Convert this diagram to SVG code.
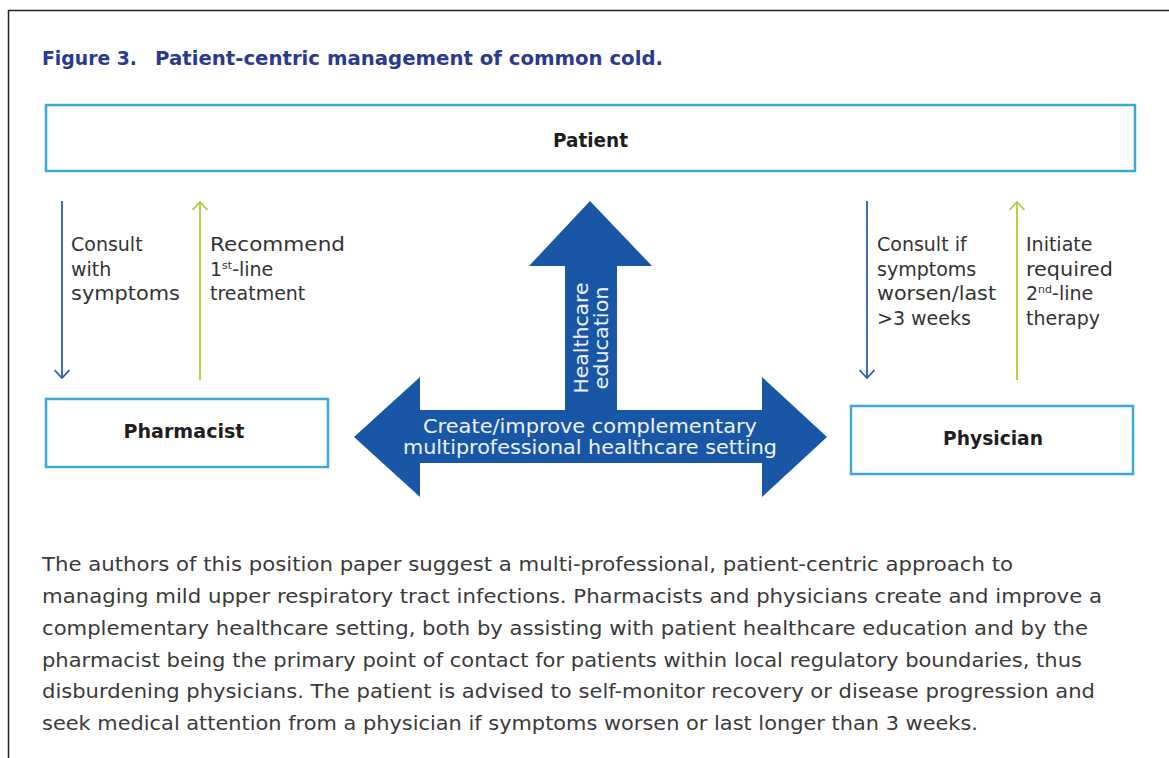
<svg xmlns="http://www.w3.org/2000/svg" width="1169" height="758" viewBox="0 0 1169 758">
<style>
.frame{fill:none;stroke:#222;stroke-width:1.5}
.box{fill:#fff;stroke:#3aa9da;stroke-width:2.5}
.title{font-family:"DejaVu Sans",sans-serif;font-weight:bold;font-size:19.5px;fill:#2b3a8e}
.nodelabel{font-family:"DejaVu Sans",sans-serif;font-weight:bold;font-size:19px;fill:#1e1e1e;text-anchor:middle}
.lbl{font-family:"DejaVu Sans",sans-serif;font-size:19px;fill:#333}
.sup{font-size:11px}
.arrowtxt{font-family:"DejaVu Sans",sans-serif;font-size:19px;fill:#eef3fb;text-anchor:middle}
.para{font-family:"DejaVu Sans",sans-serif;font-size:19.5px;fill:#3a3a3a}
.blue{stroke:#2b5cab;stroke-width:1.8;fill:none}
.green{stroke:#a9cf3a;stroke-width:1.8;fill:none}
.big{fill:#1957a6}
</style>
<defs>
<marker id="chevBlue" viewBox="0 0 10 16" refX="9" refY="8" markerWidth="10" markerHeight="16" orient="auto" markerUnits="userSpaceOnUse">
<path d="M1,0.5 L9,8 L1,15.5" fill="none" stroke="#2b5cab" stroke-width="1.8"/>
</marker>
<marker id="chevGreen" viewBox="0 0 10 16" refX="9" refY="8" markerWidth="10" markerHeight="16" orient="auto" markerUnits="userSpaceOnUse">
<path d="M1,0.5 L9,8 L1,15.5" fill="none" stroke="#a9cf3a" stroke-width="1.8"/>
</marker>
</defs>
<rect width="1169" height="758" fill="#fff"/>
<path class="frame" d="M8.5,758 L8.5,10.5 L1169,10.5"/>
<g id="title">
<text class="title" x="42" y="65" textLength="95" lengthAdjust="spacingAndGlyphs">Figure 3.</text>
<text class="title" x="155" y="65" textLength="508" lengthAdjust="spacingAndGlyphs">Patient-centric management of common cold.</text>
</g>
<g id="patient">
<rect class="box" x="46" y="105" width="1089" height="66"/>
<text class="nodelabel" x="590.5" y="147" textLength="75" lengthAdjust="spacingAndGlyphs">Patient</text>
</g>
<g id="pharmacist">
<rect class="box" x="46" y="399" width="282" height="68"/>
<text class="nodelabel" x="184" y="438" textLength="121" lengthAdjust="spacingAndGlyphs">Pharmacist</text>
</g>
<g id="physician">
<rect class="box" x="851" y="406" width="282" height="68"/>
<text class="nodelabel" x="993" y="445" textLength="100" lengthAdjust="spacingAndGlyphs">Physician</text>
</g>
<g id="central-arrow">
<polygon class="big" points="590,201 652,266 617,266 617,410 762,410 762,377 827,437 762,497 762,463 420,463 420,497 354,437 420,377 420,410 565,410 565,266 529,266"/>
<text class="arrowtxt" x="590" y="433" textLength="334" lengthAdjust="spacingAndGlyphs">Create/improve complementary</text>
<text class="arrowtxt" x="590" y="454" textLength="374" lengthAdjust="spacingAndGlyphs">multiprofessional healthcare setting</text>
<text class="arrowtxt" transform="translate(588,338) rotate(-90)" x="0" y="0" textLength="111" lengthAdjust="spacingAndGlyphs">Healthcare</text>
<text class="arrowtxt" transform="translate(608,338) rotate(-90)" x="0" y="0" textLength="103" lengthAdjust="spacingAndGlyphs">education</text>
</g>
<g id="connectors">
<line class="blue" x1="62" y1="201" x2="62" y2="378" marker-end="url(#chevBlue)"/>
<line class="green" x1="200" y1="380" x2="200" y2="202" marker-end="url(#chevGreen)"/>
<line class="blue" x1="867" y1="201" x2="867" y2="378" marker-end="url(#chevBlue)"/>
<line class="green" x1="1017" y1="380" x2="1017" y2="202" marker-end="url(#chevGreen)"/>
</g>
<g id="labels-left">
<text class="lbl" x="71" y="251">Consult</text>
<text class="lbl" x="71" y="276">with</text>
<text class="lbl" x="71" y="300" textLength="109" lengthAdjust="spacingAndGlyphs">symptoms</text>
<text class="lbl" x="210" y="251" textLength="135" lengthAdjust="spacingAndGlyphs">Recommend</text>
<text class="lbl" x="210" y="276">1<tspan class="sup" dy="-7">st</tspan><tspan dy="7">-line</tspan></text>
<text class="lbl" x="210" y="300">treatment</text>
</g>
<g id="labels-right">
<text class="lbl" x="877" y="251">Consult if</text>
<text class="lbl" x="877" y="276">symptoms</text>
<text class="lbl" x="877" y="300" textLength="119" lengthAdjust="spacingAndGlyphs">worsen/last</text>
<text class="lbl" x="877" y="325">&gt;3 weeks</text>
<text class="lbl" x="1026" y="251">Initiate</text>
<text class="lbl" x="1026" y="276" textLength="87" lengthAdjust="spacingAndGlyphs">required</text>
<text class="lbl" x="1026" y="300">2<tspan class="sup" dy="-7">nd</tspan><tspan dy="7">-line</tspan></text>
<text class="lbl" x="1026" y="325">therapy</text>
</g>
<g id="caption">
<text class="para" x="42" y="571" textLength="971" lengthAdjust="spacingAndGlyphs">The authors of this position paper suggest a multi-professional, patient-centric approach to</text>
<text class="para" x="42" y="603" textLength="1060" lengthAdjust="spacingAndGlyphs">managing mild upper respiratory tract infections. Pharmacists and physicians create and improve a</text>
<text class="para" x="42" y="635" textLength="1046" lengthAdjust="spacingAndGlyphs">complementary healthcare setting, both by assisting with patient healthcare education and by the</text>
<text class="para" x="42" y="667" textLength="1040" lengthAdjust="spacingAndGlyphs">pharmacist being the primary point of contact for patients within local regulatory boundaries, thus</text>
<text class="para" x="42" y="698" textLength="1053" lengthAdjust="spacingAndGlyphs">disburdening physicians. The patient is advised to self-monitor recovery or disease progression and</text>
<text class="para" x="42" y="730" textLength="936" lengthAdjust="spacingAndGlyphs">seek medical attention from a physician if symptoms worsen or last longer than 3 weeks.</text>
</g>
</svg>
